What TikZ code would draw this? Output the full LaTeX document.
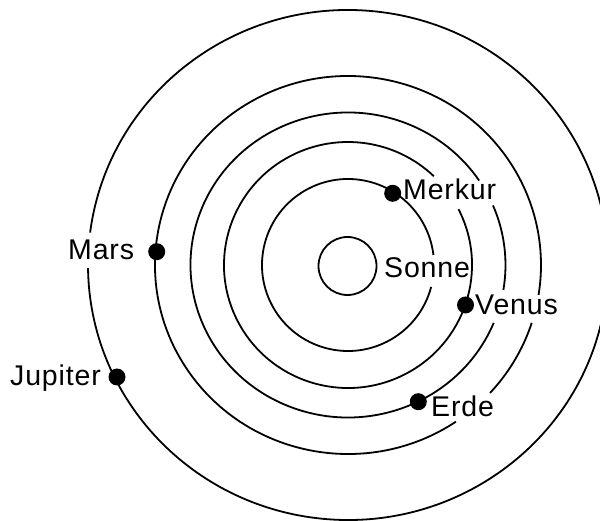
\documentclass[tikz,border=0pt]{standalone}
\usepackage{fontspec}
\setmainfont{Liberation Sans}[LetterSpace=3]
\begin{document}
\begin{tikzpicture}[x=1pt,y=-1pt,
  orbit/.style={line width=1.8pt, draw=black},
  planet/.style={circle, fill=black, minimum size=17pt, inner sep=0pt},
  lab/.style={anchor=base west, inner sep=0pt, font=\fontsize{28.5}{31}\selectfont}]
\useasboundingbox (0,0) rectangle (600,521);
\clip (0,0) rectangle (600,521);
\coordinate (c) at (348,265);
% Sonne
\node[circle, draw=black, line width=1.8pt, minimum size=58pt, inner sep=0pt] (sun) at (347.5,266) {};
% Merkur orbit
\draw[orbit] (c) ++(14.8:86) arc[start angle=14.8, end angle=353.3, radius=86];
% Venus orbit
\draw[orbit] (c) ++(-27:124 and 123) arc[start angle=-27, end angle=313.8, x radius=124, y radius=123];
% Erde orbit
\draw[orbit] (c) ++(-23:157.5 and 152.5) arc[start angle=-23, end angle=9.4, x radius=157.5, y radius=152.5];
\draw[orbit] (c) ++(22.3:157.5 and 152.5) arc[start angle=22.3, end angle=326.4, x radius=157.5, y radius=152.5];
% Mars orbit
\draw[orbit] (c) ++(17.8:193 and 189) arc[start angle=17.8, end angle=42.6, x radius=193, y radius=189];
\draw[orbit] (c) ++(56:193 and 189) arc[start angle=56, end angle=369.1, x radius=193, y radius=189];
% Jupiter orbit
\draw[orbit] (c) ++(187.3:260 and 255) arc[start angle=187.3, end angle=539.3, x radius=260, y radius=255];
% planets
\node[planet] (merkur) at (392.7,193.3) {};
\node[planet] (venus) at (465.5,305) {};
\node[planet] (erde) at (418.3,401.7) {};
\node[planet] (mars) at (156.7,251.7) {};
\node[planet] (jupiter) at (117,377) {};
% labels
\node[lab] (lmerkur) at (403,200) {Merkur};
\node[lab] (lsonne) at (384,278) {Sonne};
\node[lab] (lvenus) at (475,315) {Venus};
\node[lab] (lerde) at (431,416.7) {Erde};
\node[lab] (lmars) at (68,260) {Mars};
\node[lab] (ljupiter) at (10,385) {Jupiter};
\end{tikzpicture}
\end{document}
